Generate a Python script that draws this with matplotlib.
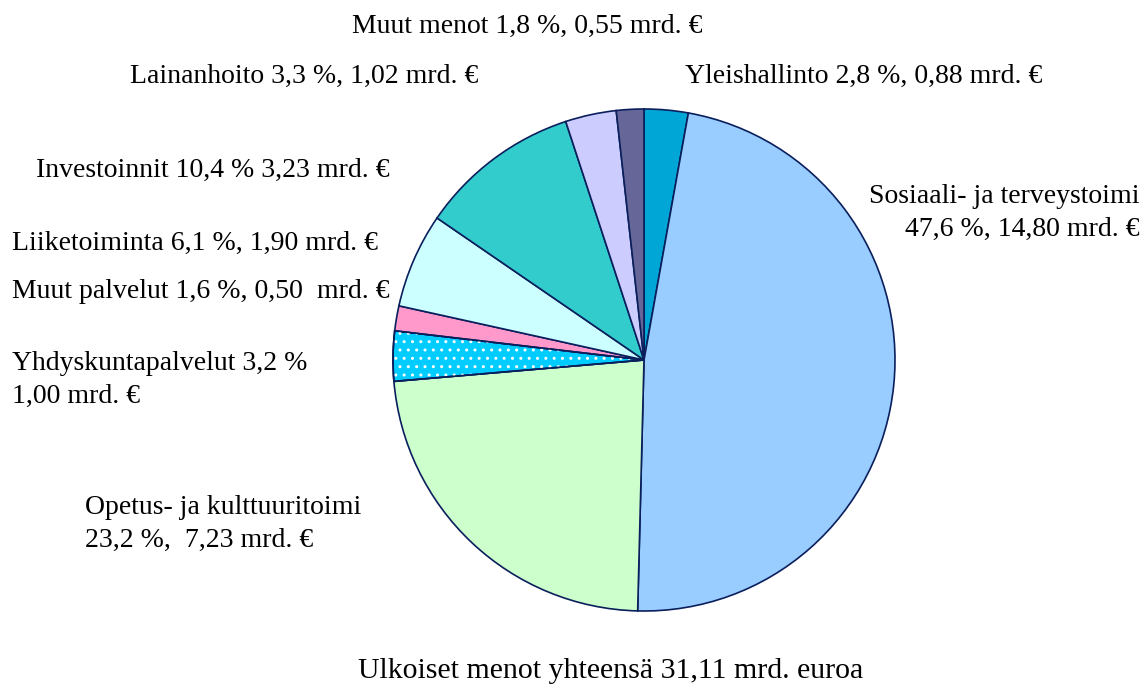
import numpy as np
import matplotlib.pyplot as plt
from matplotlib.patches import Wedge

# kuntien ulkoiset menot, mrd. euroa (myötäpäivään klo 12:sta)
categories = ['Yleishallinto', 'Sosiaali- ja terveystoimi', 'Opetus- ja kulttuuritoimi',
              'Yhdyskuntapalvelut', 'Muut palvelut', 'Liiketoiminta', 'Investoinnit',
              'Lainanhoito', 'Muut menot']
values = [0.88, 14.80, 7.23, 1.00, 0.50, 1.90, 3.23, 1.02, 0.55]
labels = ['Yleishallinto 2,8 %, 0,88 mrd. €',
          'Sosiaali- ja terveystoimi\n47,6 %, 14,80 mrd. €',
          'Opetus- ja kulttuuritoimi\n23,2 %,  7,23 mrd. €',
          'Yhdyskuntapalvelut 3,2 %\n1,00 mrd. €',
          'Muut palvelut 1,6 %, 0,50  mrd. €',
          'Liiketoiminta 6,1 %, 1,90 mrd. €',
          'Investoinnit 10,4 % 3,23 mrd. €',
          'Lainanhoito 3,3 %, 1,02 mrd. €',
          'Muut menot 1,8 %, 0,55 mrd. €']
title = 'Ulkoiset menot yhteensä 31,11 mrd. euroa'

colors = ['#00a6d6', '#99ccff', '#ccffcc', '#00ccff', '#ff99cc',
          '#ccffff', '#33cccc', '#ccccff', '#666699']
# label anchor in pixels (x, y from top), alignment
label_pos = [(685, 76, 'left'), (1140, 213, 'right'), (85, 524, 'left'),
             (12, 380, 'left'), (12, 291, 'left'), (12, 243, 'left'),
             (36, 170, 'left'), (130, 76, 'left'), (527, 26, 'center')]

W, H = 1144, 689
plt.rcParams['font.family'] = ['Liberation Serif', 'DejaVu Serif']
plt.rcParams['hatch.linewidth'] = 1.0

fig = plt.figure(figsize=(W / 100, H / 100), dpi=100)
ax = fig.add_axes([0, 0, 1, 1])

cx, cy, r = 644, H - 360, 251
wedges, _ = ax.pie(values, colors=colors, startangle=90, counterclock=False,
                   center=(cx, cy), radius=r,
                   wedgeprops=dict(edgecolor='#0a1f5c', linewidth=1.2))

# dotted fill for Yhdyskuntapalvelut
w = wedges[3]
ax.add_patch(Wedge(w.center, w.r, w.theta1, w.theta2, facecolor='none',
                   edgecolor='white', linewidth=0, hatch='..'))
ax.add_patch(Wedge(w.center, w.r, w.theta1, w.theta2, facecolor='none',
                   edgecolor='#0a1f5c', linewidth=1.2))

for lab, (x, y, ha) in zip(labels, label_pos):
    ax.text(x, H - y, lab, ha=ha, va='center', fontsize=20, linespacing=1.4)

ax.text(611, H - 671, title, ha='center', va='center', fontsize=21.5)

ax.set_xlim(0, W)
ax.set_ylim(0, H)
ax.set_aspect('equal')
ax.axis('off')

fig.savefig('out.png', dpi=100)
